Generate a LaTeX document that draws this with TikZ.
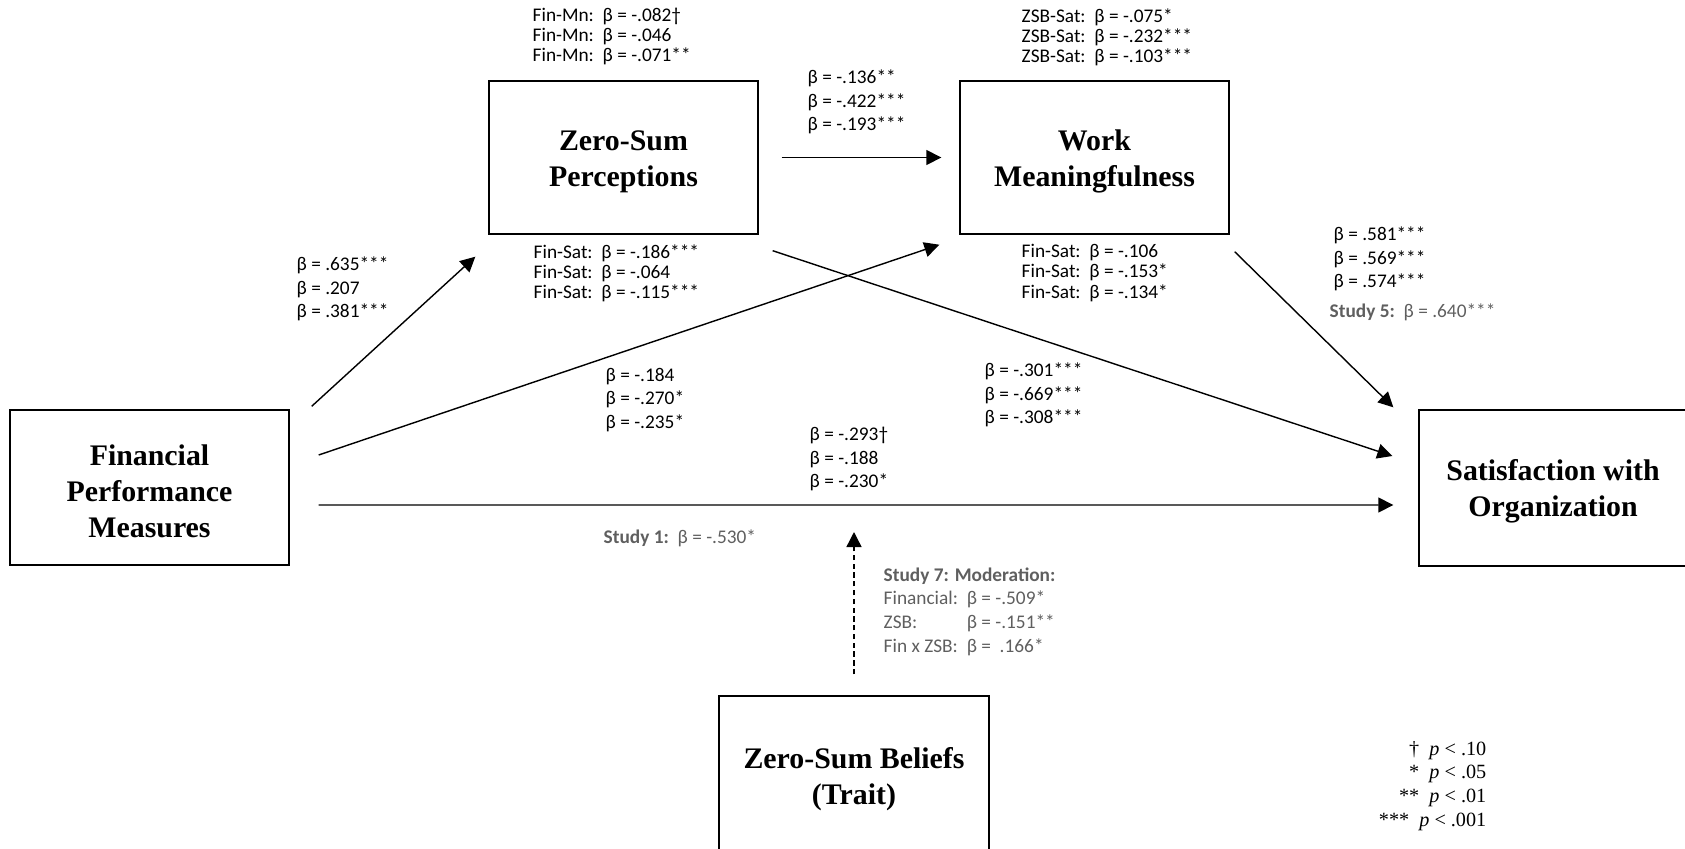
\documentclass[tikz,border=0pt]{standalone}
\usepackage{fontspec}
\setmainfont{Carlito}
\newfontfamily\timesfont{Liberation Serif}
\usepackage{tikz}
\usetikzlibrary{arrows.meta, calc}
\definecolor{notegray}{RGB}{95,95,95}
\newcommand{\boxtop}{\rule{0pt}{16pt}}

\begin{document}
\begin{tikzpicture}[x=0.02cm, y=-0.02cm, line width=0.8pt]
        \tikzstyle{construct}=[draw, rectangle, align=center, inner sep=0pt, minimum width=5.38cm, minimum height=3.06cm, font=\timesfont\bfseries\fontsize{17}{20.5}\selectfont];
        \tikzstyle{coef}=[anchor=west, align=left, inner sep=0pt, font=\fontsize{11}{13.4}\selectfont];
        \tikzstyle{tightcoef}=[font=\fontsize{11}{11.4}\selectfont];
        \tikzstyle{arr}=[-{Triangle[length=0.3cm, width=0.3cm]}];
        \useasboundingbox (0,0) rectangle (1685,849);

        \node[construct] (zsp) at (623.5,157.5) {\boxtop Zero-Sum\\Perceptions};
        \node[construct] (wm) at (1094.5,157.5) {\boxtop Work\\Meaningfulness};
        \node[construct, minimum width=5.58cm, minimum height=3.1cm] (fin) at (149.5,487.5) {\boxtop Financial\\Performance\\Measures};
        \node[construct, minimum width=5.36cm, minimum height=3.12cm] (sat) at (1553,488) {\boxtop Satisfaction with\\Organization};
        \node[construct, minimum width=5.4cm, minimum height=3.2cm] (zsb) at (854,776) {\boxtop Zero-Sum Beliefs\\(Trait)};

        \node[coef, tightcoef] (finmn) at (532,36.5) {Fin-Mn:\ \ β = -.082†\\Fin-Mn:\ \ β = -.046\\Fin-Mn:\ \ β = -.071**};
        \node[coef, tightcoef] (zsbsat) at (1021,37.6) {ZSB-Sat:\ \ β = -.075*\\ZSB-Sat:\ \ β = -.232***\\ZSB-Sat:\ \ β = -.103***};
        \node[coef] (bzw) at (807,102) {β = -.136**\\β = -.422***\\β = -.193***};
        \node[coef] (bfz) at (296,289) {β = .635***\\β = .207\\β = .381***};
        \node[coef, tightcoef] (finsata) at (533,273) {Fin-Sat:\ \ β = -.186***\\Fin-Sat:\ \ β = -.064\\Fin-Sat:\ \ β = -.115***};
        \node[coef, tightcoef] (finsatb) at (1021,273) {Fin-Sat:\ \ β = -.106\\Fin-Sat:\ \ β = -.153*\\Fin-Sat:\ \ β = -.134*};
        \node[coef] (bws) at (1333,259) {β = .581***\\β = .569***\\β = .574***};
        \node[coef, text=notegray] (studyfive) at (1329,312) {\textbf{Study 5:}\ \ β = .640***};
        \node[coef] (bfw) at (605,400) {β = -.184\\β = -.270*\\β = -.235*};
        \node[coef] (bzs) at (984,395) {β = -.301***\\β = -.669***\\β = -.308***};
        \node[coef] (bfs) at (809,459) {β = -.293†\\β = -.188\\β = -.230*};
        \node[coef, text=notegray] (studyone) at (603,538) {\textbf{Study 1:}\ \ β = -.530*};
        \node[coef, text=notegray] (studyseven) at (883,612) {\begin{tabular}{@{}l@{\ \ }l@{}}\multicolumn{2}{@{}l@{}}{\textbf{Study 7: Moderation:}}\\Financial: & β = -.509*\\ZSB: & β = -.151**\\Fin x ZSB: & β =\ \ .166*\end{tabular}};
        \node[anchor=east, align=right, inner sep=0pt, font=\timesfont\fontsize{11.5}{13.6}\selectfont] (pvals) at (1487,786) {†\ \ \textit{p} < .10\\{*}\ \ \textit{p} < .05\\{**}\ \ \textit{p} < .01\\{***}\ \ \textit{p} < .001};

        \coordinate (modtip) at (854,532);
        \path[arr]
        ($(fin.north east)+(22,-3)$) edge ($(zsp.south west)+(-13,22)$)
        ($(fin.east)+(29,-32.5)$) edge ($(wm.south west)+(-20,10)$)
        ($(fin.east)+(29,17.5)$) edge ($(sat.west)+(-25,17)$)
        ($(zsp.east)+(23,0)$) edge ($(wm.west)+(-18,0)$)
        ($(zsp.south east)+(14,16)$) edge ($(sat.west)+(-26,-32)$)
        ($(wm.south east)+(5,17)$) edge ($(sat.north west)+(-25,-2)$)
        ($(zsb.north)+(0,-21)$) edge[dash pattern=on 3pt off 2pt] (modtip);
      \end{tikzpicture}
\end{document}
